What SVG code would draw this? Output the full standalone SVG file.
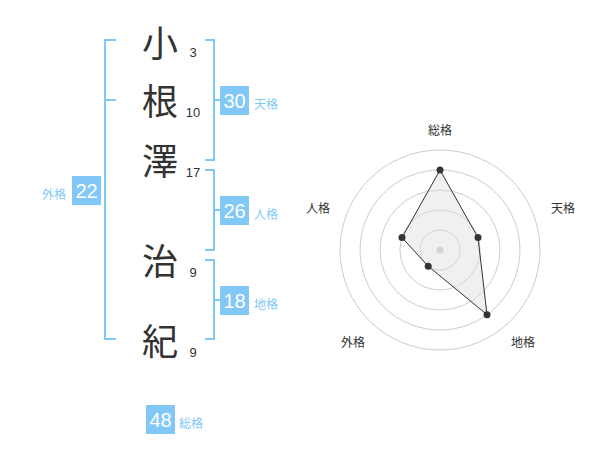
<svg xmlns="http://www.w3.org/2000/svg" width="600" height="470" viewBox="0 0 600 470">
<style>
.ch{font-family:"Noto Sans CJK JP","Noto Sans CJK SC",sans-serif;font-size:36px;fill:#333;text-anchor:middle}
.num{font-family:"Liberation Sans",Arial,sans-serif;font-size:13px;fill:#333;text-anchor:middle}
.br{fill:none;stroke:#82c8f6;stroke-width:2}
.box{fill:#82c8f6}
.bv{font-family:"Liberation Sans",Arial,sans-serif;font-size:20px;fill:#fff;text-anchor:middle}
.bl{font-family:"Noto Sans CJK JP","Noto Sans CJK SC",sans-serif;font-size:12px;fill:#82c8f6}
.ring{fill:none;stroke:#ccc;stroke-width:1}
.rl{font-family:"Noto Sans CJK JP","Noto Sans CJK SC",sans-serif;font-size:12px;fill:#333;text-anchor:middle}
.pt{fill:#333}
</style>
<rect width="600" height="470" fill="#fff"/>
<g id="connectors">
<path class="br" d="M116,40 H105 V339 H116 M105,100 H116"/>
<path class="br" d="M205,40 H214 V160 H205 M214,100 H220"/>
<path class="br" d="M205,170 H214 V250 H205 M214,210 H220"/>
<path class="br" d="M205,260 H214 V339 H205 M214,300 H220"/>
</g>
<g id="chars">
<text class="ch" x="160" y="57">小</text>
<text class="ch" x="160" y="115">根</text>
<text class="ch" x="160" y="175">澤</text>
<text class="ch" x="160" y="275">治</text>
<text class="ch" x="160" y="355">紀</text>
<text class="num" x="193" y="57">3</text>
<text class="num" x="193" y="117">10</text>
<text class="num" x="193" y="177">17</text>
<text class="num" x="193" y="277">9</text>
<text class="num" x="193" y="357">9</text>
</g>
<g id="tenkaku"><rect class="box" x="220" y="86" width="29" height="29"/><text class="bv" x="234.5" y="107.5">30</text><text class="bl" x="254" y="109">天格</text></g>
<g id="jinkaku"><rect class="box" x="220" y="196" width="29" height="29"/><text class="bv" x="234.5" y="217.5">26</text><text class="bl" x="254" y="219">人格</text></g>
<g id="chikaku"><rect class="box" x="220" y="286" width="29" height="29"/><text class="bv" x="234.5" y="307.5">18</text><text class="bl" x="254" y="309">地格</text></g>
<g id="gaikaku"><rect class="box" x="72" y="176" width="29" height="29"/><text class="bv" x="86.5" y="197.5">22</text><text class="bl" x="66" y="199" text-anchor="end">外格</text></g>
<g id="soukaku"><rect class="box" x="146" y="405" width="29" height="29"/><text class="bv" x="160.5" y="426.5">48</text><text class="bl" x="179" y="428">総格</text></g>
<g id="radar">
<circle class="ring" cx="440" cy="250" r="20"/>
<circle class="ring" cx="440" cy="250" r="40"/>
<circle class="ring" cx="440" cy="250" r="60"/>
<circle class="ring" cx="440" cy="250" r="80"/>
<circle class="ring" cx="440" cy="250" r="100"/>
<circle cx="440" cy="250" r="3.5" fill="#ccc"/>
<polygon points="440,170 478,237.6 487,314.7 428.2,266.2 402,237.6" fill="#ddd" fill-opacity="0.45" stroke="#333" stroke-width="1"/>
<circle class="pt" cx="440" cy="170" r="3.5"/>
<circle class="pt" cx="478" cy="237.6" r="3.5"/>
<circle class="pt" cx="487" cy="314.7" r="3.5"/>
<circle class="pt" cx="428.2" cy="266.2" r="3.5"/>
<circle class="pt" cx="402" cy="237.6" r="3.5"/>
<text class="rl" x="440" y="135">総格</text>
<text class="rl" x="563" y="213">天格</text>
<text class="rl" x="523" y="347">地格</text>
<text class="rl" x="353" y="347">外格</text>
<text class="rl" x="318" y="213">人格</text>
</g>
</svg>
